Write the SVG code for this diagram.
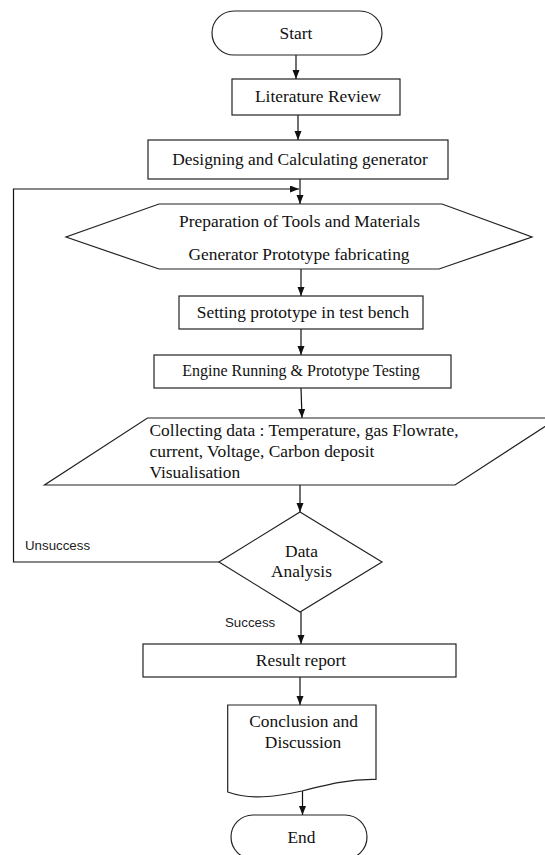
<svg xmlns="http://www.w3.org/2000/svg" width="545" height="855" viewBox="0 0 545 855">
<defs>
<marker id="ah" markerUnits="userSpaceOnUse" markerWidth="10" markerHeight="8" refX="9" refY="3.5" orient="auto">
<path d="M0,0 L9,3.5 L0,7 z" fill="#111"/>
</marker>
<style>
.shape{fill:#fff;stroke:#222;stroke-width:1.2}
.t{font-family:"Liberation Serif","Times New Roman",serif;font-size:17.4px;fill:#111}
.s{font-family:"Liberation Sans",Arial,sans-serif;font-size:13.3px;fill:#222}
.c{fill:none;stroke:#111;stroke-width:1.2;marker-end:url(#ah)}
.m{text-anchor:middle}
</style>
</defs>
<rect width="545" height="855" fill="#fff"/>
<g id="connectors">
<path class="c" d="M296,55 V79"/>
<path class="c" d="M298,115 V140"/>
<path class="c" d="M300,179 V204"/>
<path class="c" d="M219,562 H13.5 V189 H299"/>
<path class="c" d="M301,269 V296"/>
<path class="c" d="M301,329 V355"/>
<path class="c" d="M301,388 L302,418"/>
<path class="c" d="M300,485 V512"/>
<path class="c" d="M301,612 V644"/>
<path class="c" d="M300,677 V705"/>
<path class="c" d="M302.5,791 V815"/>
<text class="s" x="25" y="550">Unsuccess</text>
<text class="s" x="225" y="627">Success</text>
</g>
<g id="start">
<rect class="shape" x="212" y="11" width="170" height="44" rx="22" ry="22"/>
<text class="t m" x="296" y="39">Start</text>
</g>
<g id="literature">
<rect class="shape" x="232" y="79" width="168" height="36"/>
<text class="t m" x="318" y="102">Literature Review</text>
</g>
<g id="designing">
<rect class="shape" x="148" y="140" width="300" height="39"/>
<text class="t m" x="300" y="165">Designing and Calculating generator</text>
</g>
<g id="preparation">
<polygon class="shape" points="159,204 442,204 532,237 439,269 159,269 66,237"/>
<text class="t m" x="299.5" y="227">Preparation of Tools and Materials</text>
<text class="t m" x="299" y="260">Generator Prototype fabricating</text>
</g>
<g id="setting">
<rect class="shape" x="179" y="296" width="244" height="33"/>
<text class="t m" x="303" y="318">Setting prototype in test bench</text>
</g>
<g id="engine">
<rect class="shape" x="154" y="355" width="297" height="33"/>
<text class="t m" x="301" y="376" style="font-size:16px">Engine Running &amp; Prototype Testing</text>
</g>
<g id="collecting">
<polygon class="shape" points="147.5,418 558,418 455,485 44.5,485"/>
<text class="t" x="149.5" y="436">Collecting data : Temperature, gas Flowrate,</text>
<text class="t" x="149.5" y="457">current, Voltage, Carbon deposit</text>
<text class="t" x="149.5" y="478">Visualisation</text>
</g>
<g id="analysis">
<polygon class="shape" points="300,512 382,562 300,612 219,562"/>
<text class="t m" x="301.5" y="557">Data</text>
<text class="t m" x="301.5" y="577">Analysis</text>
</g>
<g id="result">
<rect class="shape" x="143" y="644" width="313" height="33"/>
<text class="t m" x="301" y="666">Result report</text>
</g>
<g id="conclusion">
<path class="shape" d="M227.7,705 H376 V779.5 C350,779 330,784 302,791 C275,797 250,800 227.7,792 Z"/>
<text class="t m" x="303.5" y="727">Conclusion and</text>
<text class="t m" x="303" y="748">Discussion</text>
</g>
<g id="end">
<rect class="shape" x="231" y="815" width="136" height="44" rx="22" ry="22"/>
<text class="t m" x="301.5" y="843">End</text>
</g>
</svg>
